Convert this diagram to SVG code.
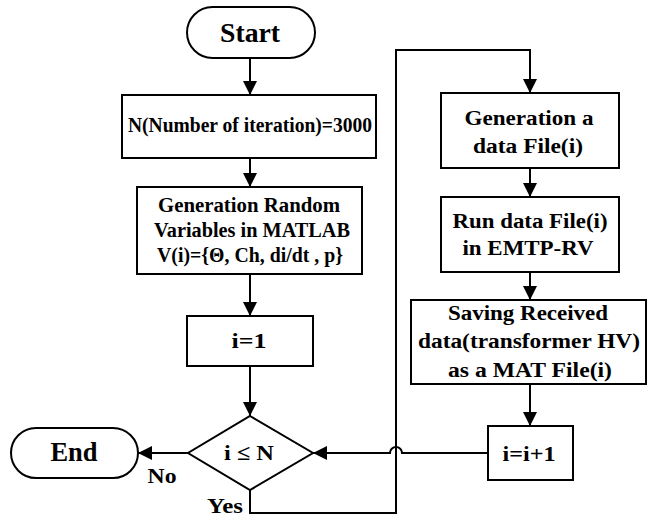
<svg xmlns="http://www.w3.org/2000/svg" width="648" height="517" viewBox="0 0 648 517">
<style>
.box{fill:#fff;stroke:#000;stroke-width:2}
.t{font-family:"Liberation Serif","Times New Roman",serif;font-weight:bold;font-size:20px;fill:#000;text-anchor:middle}
.big{font-size:27px}
.mid{font-size:22px}
.ln{fill:none;stroke:#000;stroke-width:2}
</style>
<defs>
<marker id="ah" markerUnits="userSpaceOnUse" markerWidth="14" markerHeight="14" viewBox="0 0 14 14" refX="14" refY="7" orient="auto">
<path d="M0,0 L14,7 L0,14 Z" fill="#000"/>
</marker>
</defs>
<rect width="648" height="517" fill="#fff"/>
<g id="connectors">
<path class="ln" d="M250,58 V95" marker-end="url(#ah)"/>
<path class="ln" d="M250,158 V187" marker-end="url(#ah)"/>
<path class="ln" d="M250,274 V316" marker-end="url(#ah)"/>
<path class="ln" d="M250,366 V416" marker-end="url(#ah)"/>
<path class="ln" d="M188,453 H138" marker-end="url(#ah)"/>
<path class="ln" d="M250,490 V513 H396 V50 H530 V93" marker-end="url(#ah)"/>
<path class="ln" d="M530,168 V197" marker-end="url(#ah)"/>
<path class="ln" d="M530,272 V300" marker-end="url(#ah)"/>
<path class="ln" d="M530,384 V426" marker-end="url(#ah)"/>
<path class="ln" d="M488,453 H402 A6,6 0 0 0 390,453 H313" marker-end="url(#ah)"/>
</g>
<g id="start">
<rect class="box" x="187" y="7" width="128" height="51" rx="25.5"/>
<text class="t big" x="250" y="42" textLength="60" lengthAdjust="spacingAndGlyphs">Start</text>
</g>
<g id="n-box">
<rect class="box" x="122" y="95" width="254" height="63"/>
<text class="t" x="250" y="132" textLength="244" lengthAdjust="spacingAndGlyphs">N(Number of iteration)=3000</text>
</g>
<g id="gen-random">
<rect class="box" x="137" y="187" width="225" height="87"/>
<text class="t" x="249" y="212" textLength="182" lengthAdjust="spacingAndGlyphs">Generation Random</text>
<text class="t" x="252" y="237" textLength="196" lengthAdjust="spacingAndGlyphs">Variables in MATLAB</text>
<text class="t" x="250" y="262" textLength="186" lengthAdjust="spacingAndGlyphs">V(i)={Θ, Ch, di/dt , p}</text>
</g>
<g id="i1">
<rect class="box" x="187" y="316" width="126" height="50"/>
<text class="t mid" x="249" y="348" textLength="35" lengthAdjust="spacingAndGlyphs">i=1</text>
</g>
<g id="decision">
<path class="box" d="M250,416 L313,453 L250,490 L188,453 Z"/>
<text class="t mid" x="249" y="460" textLength="50" lengthAdjust="spacingAndGlyphs">i ≤ N</text>
</g>
<g id="end">
<rect class="box" x="11" y="428" width="127" height="50" rx="25"/>
<text class="t big" x="74" y="461" textLength="47" lengthAdjust="spacingAndGlyphs">End</text>
</g>
<g id="labels">
<text class="t" x="162" y="483" textLength="29" lengthAdjust="spacingAndGlyphs">No</text>
<text class="t" x="225" y="513" textLength="36" lengthAdjust="spacingAndGlyphs">Yes</text>
</g>
<g id="gen-file">
<rect class="box" x="441" y="93" width="178" height="75"/>
<text class="t" x="529" y="125" textLength="129" lengthAdjust="spacingAndGlyphs">Generation a</text>
<text class="t" x="528" y="153" textLength="110" lengthAdjust="spacingAndGlyphs">data File(i)</text>
</g>
<g id="run-file">
<rect class="box" x="441" y="197" width="178" height="75"/>
<text class="t" x="530" y="228" textLength="155" lengthAdjust="spacingAndGlyphs">Run data File(i)</text>
<text class="t" x="528" y="255" textLength="131" lengthAdjust="spacingAndGlyphs">in EMTP-RV</text>
</g>
<g id="saving">
<rect class="box" x="411" y="300" width="235" height="84"/>
<text class="t" x="528" y="320" textLength="160" lengthAdjust="spacingAndGlyphs">Saving Received</text>
<text class="t" x="529" y="348" textLength="222" lengthAdjust="spacingAndGlyphs">data(transformer HV)</text>
<text class="t" x="530" y="377" textLength="164" lengthAdjust="spacingAndGlyphs">as a MAT File(i)</text>
</g>
<g id="inc">
<rect class="box" x="488" y="426" width="85" height="54"/>
<text class="t mid" x="529" y="461" textLength="53" lengthAdjust="spacingAndGlyphs">i=i+1</text>
</g>
</svg>
